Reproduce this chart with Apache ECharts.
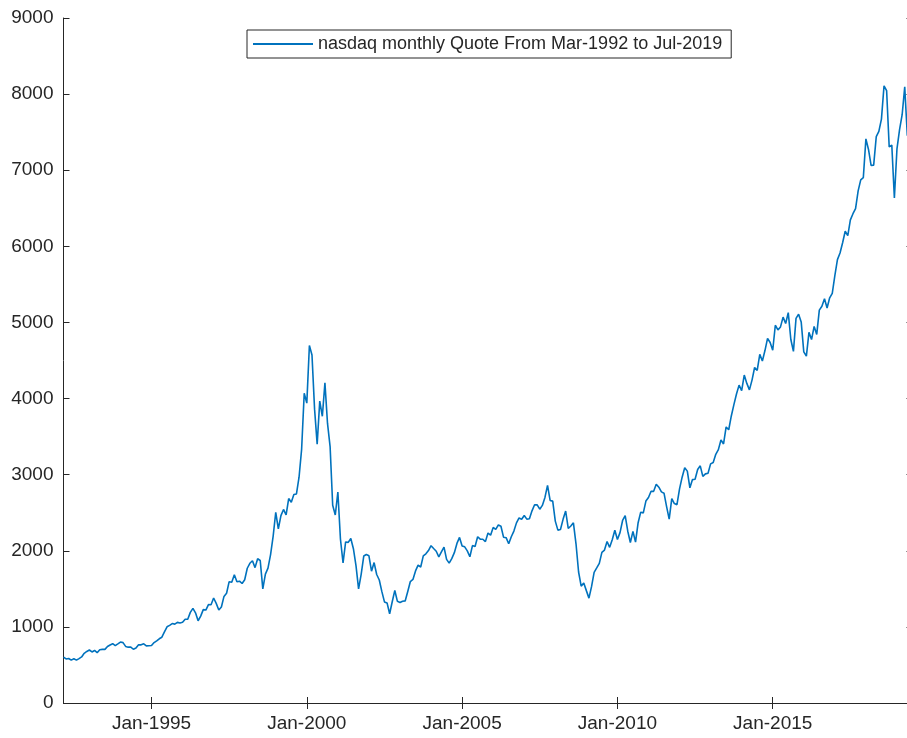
<!DOCTYPE html>
<html>
<head>
<meta charset="utf-8">
<script src="https://cdn.jsdelivr.net/npm/echarts@6/dist/echarts.min.js"></script>
<style>
  html, body { margin: 0; padding: 0; background: #ffffff; overflow: hidden; width: 907px; height: 738px; }
  /* the axes box runs a few pixels past the right edge of the window */
  #chart { width: 920px; height: 738px; }
</style>
</head>
<body>
<div id="chart"></div>
<script>
// NASDAQ Composite, monthly closes (Mar-1992 .. Jul-2019)
const monthNames = ['Jan','Feb','Mar','Apr','May','Jun','Jul','Aug','Sep','Oct','Nov','Dec'];
const firstYear = 1992;
const firstMonth = 2; // March

const y1992 = [603.8, 578.7, 585.3, 563.6, 580.8, 563.1, 583.3, 605.2, 652.7, 677.0];
const y1993 = [696.3, 670.8, 690.1, 661.4, 700.5, 704.0, 704.7, 742.8, 762.8, 779.3, 754.4, 777.0];
const y1994 = [800.5, 793.0, 743.5, 733.8, 735.2, 706.0, 722.2, 765.6, 764.3, 777.5, 750.3, 752.0];
const y1995 = [755.2, 793.7, 817.2, 844.0, 864.6, 933.5, 1001.2, 1020.1, 1043.5, 1036.1, 1059.2, 1052.1];
const y1996 = [1059.8, 1100.1, 1101.4, 1190.5, 1243.4, 1185.0, 1080.6, 1141.5, 1226.9, 1221.5, 1292.6, 1291.0];
const y1997 = [1379.9, 1309.0, 1221.7, 1260.8, 1400.3, 1442.1, 1593.8, 1587.3, 1685.7, 1593.6, 1600.6, 1570.4];
const y1998 = [1619.4, 1770.5, 1835.7, 1868.4, 1778.9, 1894.7, 1872.4, 1499.3, 1693.8, 1771.4, 1949.5, 2192.7];
const y1999 = [2505.9, 2288.0, 2461.4, 2542.9, 2470.5, 2686.1, 2638.5, 2739.4, 2746.2, 2966.4, 3336.2, 4069.3];
const y2000 = [3940.4, 4696.7, 4572.8, 3860.7, 3400.9, 3966.1, 3767.0, 4206.4, 3672.8, 3369.6, 2597.9, 2470.5];
const y2001 = [2772.7, 2151.8, 1840.3, 2116.2, 2110.5, 2160.5, 2027.1, 1805.4, 1498.8, 1690.2, 1930.6, 1950.4];
const y2002 = [1934.0, 1731.5, 1845.4, 1688.2, 1615.7, 1463.2, 1328.3, 1314.9, 1172.1, 1329.8, 1478.8, 1335.5];
const y2003 = [1320.9, 1337.5, 1341.2, 1464.3, 1595.9, 1622.8, 1735.0, 1810.5, 1786.9, 1932.2, 1960.3, 2003.4];
const y2004 = [2066.2, 2029.8, 1994.2, 1920.2, 1986.7, 2048.0, 1887.4, 1838.1, 1896.8, 1975.0, 2096.8, 2175.4];
const y2005 = [2062.4, 2051.7, 1999.2, 1921.7, 2068.2, 2057.0, 2184.8, 2152.1, 2151.7, 2120.3, 2232.8, 2205.3];
const y2006 = [2305.8, 2281.4, 2339.8, 2322.6, 2178.9, 2172.1, 2091.5, 2183.8, 2258.4, 2366.7, 2431.8, 2415.3];
const y2007 = [2463.9, 2416.2, 2421.6, 2525.1, 2604.5, 2603.2, 2546.3, 2596.4, 2701.5, 2859.1, 2661.0, 2652.3];
const y2008 = [2389.9, 2271.5, 2279.1, 2412.8, 2522.7, 2293.0, 2325.6, 2367.5, 2091.9, 1721.0, 1535.6, 1577.0];
const y2009 = [1476.4, 1377.8, 1528.6, 1717.3, 1774.3, 1835.0, 1979.0, 2009.1, 2122.4, 2045.1, 2144.6, 2269.2];
const y2010 = [2147.4, 2238.3, 2398.0, 2461.2, 2257.0, 2109.2, 2254.7, 2114.0, 2368.6, 2507.4, 2498.2, 2652.9];
const y2011 = [2700.1, 2782.3, 2781.1, 2873.5, 2835.3, 2773.5, 2756.4, 2579.5, 2415.4, 2684.4, 2620.3, 2605.2];
const y2012 = [2813.8, 2966.9, 3091.6, 3046.4, 2827.3, 2935.1, 2939.5, 3067.0, 3116.2, 2977.2, 3010.2, 3019.5];
const y2013 = [3142.1, 3160.2, 3267.5, 3328.8, 3455.9, 3403.3, 3626.4, 3589.9, 3771.5, 3919.7, 4059.9, 4176.6];
const y2014 = [4103.9, 4308.1, 4199.0, 4114.6, 4242.6, 4408.2, 4369.8, 4580.3, 4493.4, 4630.7, 4791.6, 4736.1];
const y2015 = [4635.2, 4963.5, 4900.9, 4941.4, 5070.0, 4986.9, 5128.3, 4776.5, 4620.2, 5053.8, 5108.7, 5007.4];
const y2016 = [4614.0, 4558.0, 4869.8, 4775.4, 4948.1, 4842.7, 5162.1, 5213.2, 5312.0, 5189.1, 5323.7, 5383.1];
const y2017 = [5614.8, 5825.4, 5911.7, 6047.6, 6198.5, 6140.4, 6348.1, 6428.7, 6496.0, 6728.0, 6874.0, 6903.4];
const y2018 = [7411.5, 7273.0, 7063.4, 7066.3, 7442.1, 7510.3, 7671.8, 8109.5, 8046.4, 7305.9, 7330.5, 6635.3];
const y2019 = [7281.7, 7532.5, 7729.3, 8095.4, 7453.2, 8006.2, 8175.4];

const tickLabels = ['Jan-1995', 'Jan-2000', 'Jan-2005', 'Jan-2010', 'Jan-2015'];
const yMin = 0, yMax = 9000, yStep = 1000;
const seriesName = 'nasdaq monthly Quote From Mar-1992 to Jul-2019';

const closes = [].concat(y1992, y1993, y1994, y1995, y1996, y1997, y1998, y1999, y2000,
  y2001, y2002, y2003, y2004, y2005, y2006, y2007, y2008, y2009, y2010, y2011, y2012,
  y2013, y2014, y2015, y2016, y2017, y2018, y2019);

// month labels like "Mar-1992"
const months = closes.map((_, i) => {
  const m = firstMonth + i;
  return monthNames[m % 12] + '-' + (firstYear + Math.floor(m / 12));
});

const ink = '#262626';
const fontFamily = 'Helvetica, Arial, "Liberation Sans", sans-serif';
const showTick = (idx, val) => tickLabels.indexOf(val) !== -1;

const chart = echarts.init(document.getElementById('chart'), null, { renderer: 'canvas' });
chart.setOption({
  animation: false,
  backgroundColor: '#ffffff',
  grid: { left: 63.5, width: 849, top: 18, height: 685, containLabel: false },
  legend: {
    left: 247, top: 30,
    padding: [5, 9, 5, 6],
    borderColor: ink, borderWidth: 1,
    itemWidth: 60, itemHeight: 2, itemGap: 5,
    icon: 'rect',
    textStyle: { color: ink, fontSize: 18, fontFamily },
    data: [seriesName]
  },
  xAxis: [{
    type: 'category', data: months, boundaryGap: false, position: 'bottom',
    axisLine: { lineStyle: { color: ink, width: 1 } },
    axisTick: { inside: true, length: 6, interval: showTick, lineStyle: { color: ink } },
    axisLabel: { interval: showTick, color: ink, fontSize: 19, fontFamily, margin: 11 },
    splitLine: { show: false }
  }, {
    type: 'category', data: months, boundaryGap: false, position: 'top',
    axisLine: { lineStyle: { color: ink, width: 1 } },
    axisTick: { inside: true, length: 6, interval: showTick, lineStyle: { color: ink } },
    axisLabel: { show: false },
    splitLine: { show: false }
  }],
  yAxis: [{
    type: 'value', min: yMin, max: yMax, interval: yStep, position: 'left',
    axisLine: { show: true, lineStyle: { color: ink, width: 1 } },
    axisTick: { show: true, inside: true, length: 6, lineStyle: { color: ink } },
    axisLabel: { color: ink, fontSize: 19, fontFamily, margin: 10, formatter: v => String(v) },
    splitLine: { show: false }
  }, {
    type: 'value', min: yMin, max: yMax, interval: yStep, position: 'right',
    axisLine: { show: true, lineStyle: { color: ink, width: 1 } },
    axisTick: { show: true, inside: true, length: 6, lineStyle: { color: ink } },
    axisLabel: { show: false },
    splitLine: { show: false }
  }],
  series: [{
    name: seriesName,
    type: 'line',
    data: closes,
    xAxisIndex: 0, yAxisIndex: 0,
    showSymbol: false, symbol: 'none',
    color: '#0072BD',
    lineStyle: { color: '#0072BD', width: 1.6 }
  }]
});
</script>
</body>
</html>
